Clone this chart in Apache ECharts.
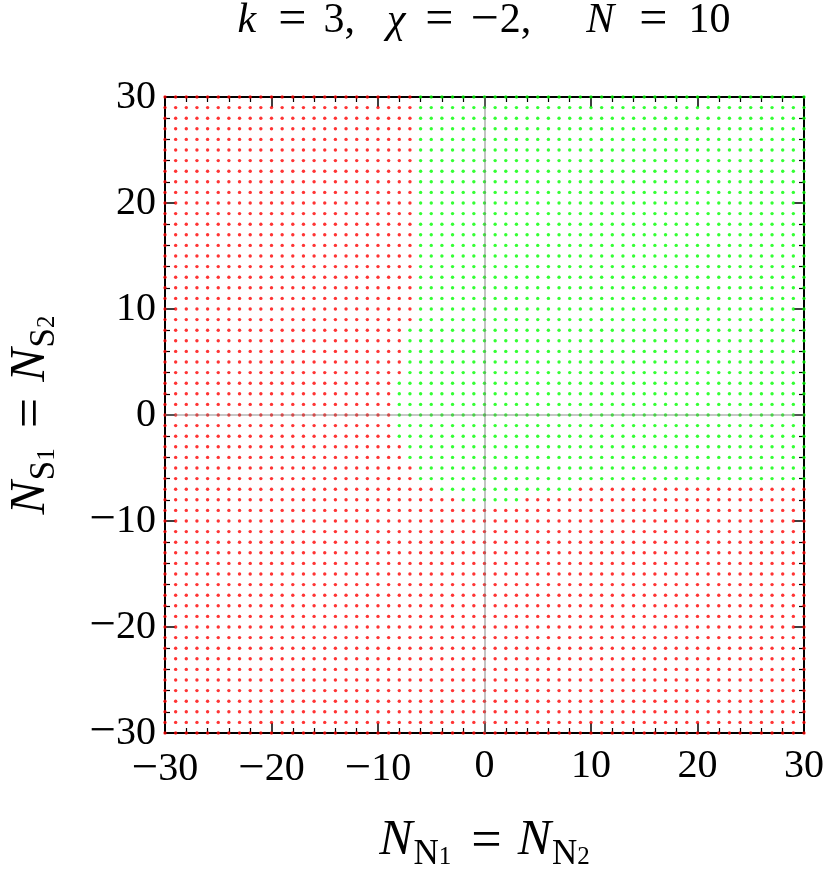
<!DOCTYPE html>
<html><head><meta charset="utf-8">
<script src="https://cdn.jsdelivr.net/npm/echarts@6/dist/echarts.min.js"></script>
<style>html,body{margin:0;padding:0;background:#fff}#c{width:830px;height:881px}</style>
</head><body><div id="c"></div>
<script>
// Integer lattice of N_N (x) and N_S (y) values shown in the chart
const latticeValues = [-30,-29,-28,-27,-26,-25,-24,-23,-22,-21,-20,-19,-18,-17,-16,-15,-14,-13,-12,-11,
  -10,-9,-8,-7,-6,-5,-4,-3,-2,-1,0,1,2,3,4,5,6,7,8,9,10,11,12,13,14,15,16,17,18,19,20,
  21,22,23,24,25,26,27,28,29,30];
// Green (allowed) region, read row-band by row-band: rows bandYFrom..bandYTo have green for x in bandXFrom..bandXTo
const bandYFrom = [9, 4, -2, -4, -6, -7, -8];
const bandYTo   = [30, 8, 3, -3, -5, -7, -8];
const bandXFrom = [-6, -7, -8, -7, -6, -4, -2];
const bandXTo   = [30, 30, 30, 30, 30, 8, 3];
const axisMin = -30, axisMax = 30, tickStep = 10;

function isGreen(x, y) {
  for (let i = 0; i < bandYFrom.length; i++) {
    if (y >= bandYFrom[i] && y <= bandYTo[i] && x >= bandXFrom[i] && x <= bandXTo[i]) return true;
  }
  return false;
}
const greenPts = [], redPts = [];
latticeValues.forEach(y => latticeValues.forEach(x => {
  (isGreen(x, y) ? greenPts : redPts).push([x, y]);
}));

const FONT = 'Liberation Serif';
const fmt = v => v < 0 ? '{m|\u2212}{d|' + Math.abs(v) + '}' : '{d|' + v + '}';
const tickRich = {
  m: {fontFamily: FONT, fontSize: 47, color: '#000'},
  d: {fontFamily: FONT, fontSize: 40, color: '#000'}
};
const nameRich = {
  n:  {fontFamily: FONT, fontStyle: 'italic', fontSize: 50, lineHeight: 50, verticalAlign: 'top', color: '#000'},
  s:  {fontFamily: FONT, fontSize: 35, lineHeight: 35, verticalAlign: 'top', padding: [21, 0, 0, 1], color: '#000'},
  ss: {fontFamily: FONT, fontSize: 25, lineHeight: 25, verticalAlign: 'top', padding: [29, 0, 0, 0], color: '#000'},
  eq: {fontFamily: FONT, fontSize: 54, lineHeight: 50, verticalAlign: 'top', padding: [0, 16, 0, 20], color: '#000'}
};

const baseAxis = {
  min: axisMin, max: axisMax, interval: tickStep,
  axisLine: {show: true, onZero: false, lineStyle: {color: '#000', width: 2}},
  axisTick: {show: true, inside: true, length: 10, lineStyle: {color: '#000', width: 1.5}},
  minorTick: {show: true, splitNumber: 5, length: 5, lineStyle: {color: '#000', width: 1.2}},
  splitLine: {show: false},
  axisLabel: {show: true, fontFamily: FONT, fontSize: 40, color: '#000', formatter: fmt, rich: tickRich}
};

const T = (extra) => Object.assign({fontFamily: FONT, fontSize: 42, color: '#000'}, extra);
const chart = echarts.init(document.getElementById('c'));
chart.setOption({
  animation: false,
  backgroundColor: '#fff',
  grid: {left: 165, right: 26, top: 97, bottom: 148, outerBoundsMode: 'none', containLabel: false},
  graphic: [{
    type: 'text', x: 484, y: -4,
    style: {
      text: '{k|k}{e1|=}{a|3,}{c|χ}{e2|=}{m|\u2212}{b|2,}{n|N}{e3|=}{t|10}',
      align: 'center', verticalAlign: 'top',
      rich: {
        k:  T({fontStyle: 'italic', padding: [0, 22, 0, 0]}),
        e1: T({fontSize: 50, padding: [0, 17, 0, 0]}),
        a:  T({padding: [0, 32, 0, 0]}),
        c:  T({fontStyle: 'italic', padding: [0, 20, 0, 0]}),
        e2: T({fontSize: 50, padding: [0, 17, 0, 0]}),
        m:  T({fontSize: 50, padding: [0, 1, 0, 0]}),
        b:  T({padding: [0, 55, 0, 0]}),
        n:  T({fontStyle: 'italic', padding: [0, 25, 0, 0]}),
        e3: T({fontSize: 50, padding: [0, 21, 0, 0]}),
        t:  T({})
      }
    }
  }],
  xAxis: [
    Object.assign({}, baseAxis, {
      type: 'value', position: 'bottom',
      axisLabel: Object.assign({}, baseAxis.axisLabel, {margin: 13}),
      name: '{n|N}{s|N}{ss|1}{eq|=}{n|N}{s|N}{ss|2}',
      nameLocation: 'middle', nameGap: 83,
      nameTextStyle: {rich: nameRich}
    }),
    Object.assign({}, baseAxis, {type: 'value', position: 'top', axisLabel: {show: false}})
  ],
  yAxis: [
    Object.assign({}, baseAxis, {
      type: 'value', position: 'left',
      axisLabel: Object.assign({}, baseAxis.axisLabel, {margin: 9}),
      name: '{n|N}{s|S}{ss|1}{eq|=}{n|N}{s|S}{ss|2}',
      nameLocation: 'middle', nameGap: 109, nameRotate: 90,
      nameTextStyle: {rich: nameRich}
    }),
    Object.assign({}, baseAxis, {type: 'value', position: 'right', axisLabel: {show: false}})
  ],
  series: [
    {type: 'scatter', name: 'excluded', data: redPts, symbol: 'circle', symbolSize: 3.4,
     itemStyle: {color: '#ff0000'}, silent: true},
    {type: 'scatter', name: 'allowed', data: greenPts, symbol: 'circle', symbolSize: 3.4,
     itemStyle: {color: '#00ff00'}, silent: true,
     markLine: {silent: true, symbol: 'none', label: {show: false},
       lineStyle: {color: 'rgba(120,120,120,0.55)', width: 1.6, type: 'solid'},
       data: [{xAxis: 0}, {yAxis: 0}]}}
  ]
});
</script>
</body></html>
